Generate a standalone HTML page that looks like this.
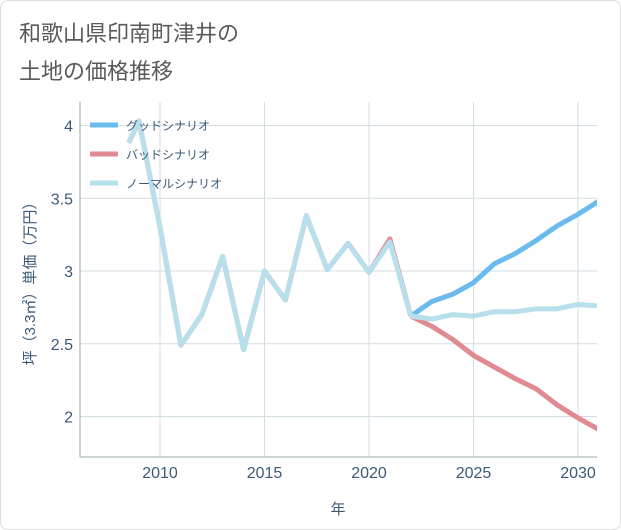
<!DOCTYPE html>
<html><head><meta charset="utf-8"><style>
body{margin:0;background:#fff;font-family:"Liberation Sans","Noto Sans CJK JP",sans-serif}
#wrap{position:relative;width:619px;height:528px;border:1px solid #ddd;border-radius:8px;background:#fff}
.t{position:absolute;left:18px;font-size:22px;color:#5a5a5a}
</style></head><body>
<div id="wrap">
<div class="t" style="top:15px">和歌山県印南町津井の</div>
<div class="t" style="top:53px">土地の価格推移</div>
<svg id="svg" width="621" height="530" style="position:absolute;left:-1px;top:-1px"></svg>
</div>
<script>
const years=[2008.5,2009,2010,2011,2012,2013,2014,2015,2016,2017,2018,2019,2020,2021,2022];
const normalHist=[3.88,4.03,3.3,2.49,2.7,3.1,2.46,3.0,2.8,3.38,3.01,3.19,2.99,3.2,2.69];
const badHist=[3.88,4.03,3.3,2.49,2.7,3.1,2.46,3.0,2.8,3.38,3.01,3.19,2.99,3.22,2.69];
const futYears=[2022,2023,2024,2025,2026,2027,2028,2029,2030,2031];
const good=[2.69,2.79,2.84,2.92,3.05,3.12,3.21,3.31,3.39,3.48];
const bad=[2.69,2.62,2.53,2.42,2.34,2.26,2.19,2.08,1.99,1.91];
const normal=[2.69,2.67,2.70,2.69,2.72,2.72,2.74,2.74,2.77,2.76];
const xTicks=[2010,2015,2020,2025,2030];
const yTicks=[2,2.5,3,3.5,4];
const L=80,R=597,T=102,B=457;
const x=v=>160+(v-2010)*20.9;
const y=v=>271-(v-3)*145.5;
const svg=document.getElementById('svg');const NS='http://www.w3.org/2000/svg';
function mk(t,a,p){const e=document.createElementNS(NS,t);for(const k in a)e.setAttribute(k,a[k]);(p||svg).appendChild(e);return e;}
const defs=mk('defs',{});const cp=mk('clipPath',{id:'c'},defs);mk('rect',{x:L,y:T,width:R-L,height:B-T},cp);
xTicks.forEach(v=>{const g=mk('line',{x1:x(v),x2:x(v),y1:T,y2:B,stroke:'#d3dde4'});
const t=mk('text',{x:x(v),y:478,'text-anchor':'middle','font-size':16,fill:'#3c5a78'});t.textContent=v;});
yTicks.forEach(v=>{const g=mk('line',{x1:L,x2:R,y1:y(v),y2:y(v),stroke:'#d3dde4'});
const t=mk('text',{x:73,y:y(v)+6,'text-anchor':'end','font-size':16,fill:'#3c5a78'});t.textContent=v;});
const ax=mk('path',{d:`M${L},${T}V${B}H${R}`,fill:'none',stroke:'#9aa',"stroke-width":1});
const xt=mk('text',{x:338,y:514,'text-anchor':'middle','font-size':15,fill:'#3c5a78'});xt.textContent='年';
const yt=mk('text',{x:0,y:0,'text-anchor':'middle','font-size':15,fill:'#3c5a78',transform:'translate(35,280) rotate(-90)'});yt.textContent='坪（3.3㎡）単価（万円）';
function line(xs,vs,c,n){const p=mk('path',{d:xs.map((v,i)=>(i?'L':'M')+x(v)+','+y(vs[i])).join(''),fill:'none',stroke:c,'stroke-width':5,'stroke-linejoin':'round','clip-path':'url(#c)'});}
line(years,badHist,'#e08a92','bad-history-line');
line(futYears,bad,'#e08a92','bad-scenario-line');
line(futYears,good,'#6bbbee','good-scenario-line');
line(years,normalHist,'#b7dfec','normal-history-line');
line(futYears,normal,'#b7dfec','normal-scenario-line');
[['グッドシナリオ','#6bbbee'],['バッドシナリオ','#e08a92'],['ノーマルシナリオ','#b7dfec']].forEach((d,i)=>{const yy=125+i*29;
const l=mk('line',{x1:90,x2:118,y1:yy,y2:yy,stroke:d[1],'stroke-width':5});
const t=mk('text',{x:126,y:yy+5,'font-size':12,fill:'#3c5a78'});t.textContent=d[0];});
</script></body></html>
